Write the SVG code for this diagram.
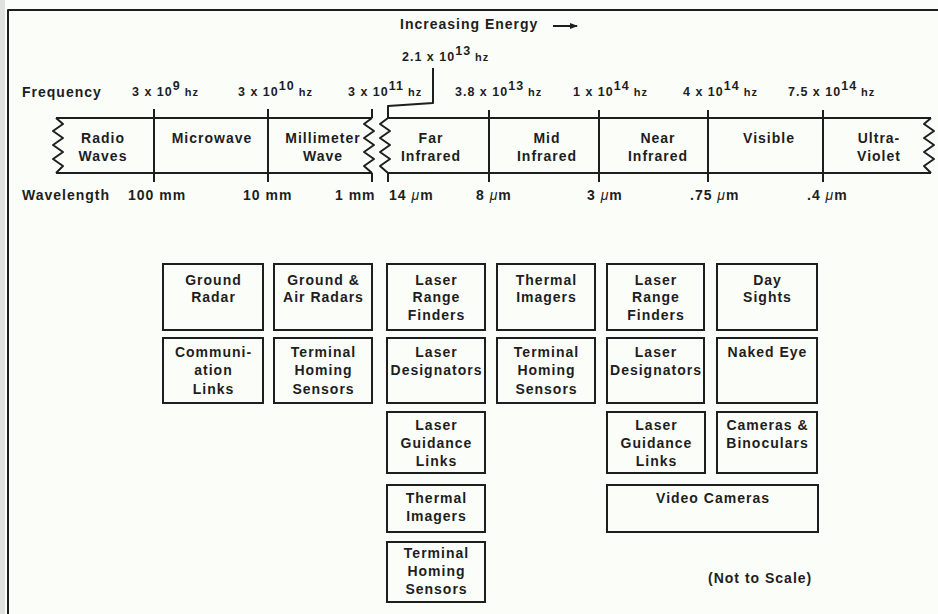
<svg xmlns="http://www.w3.org/2000/svg" width="938" height="614" viewBox="0 0 938 614">
<style>
text{font-family:"Liberation Sans",Arial,sans-serif;font-weight:bold;fill:#1e1e1e;letter-spacing:1px}
.t14{font-size:14px}
.f{font-size:12.5px}
.hz{font-size:11px}
.c{text-anchor:middle}
.mu{font-style:italic;font-weight:normal}
.box{fill:none;stroke:#1e1e1e;stroke-width:2}
.ln{fill:none;stroke:#1e1e1e;stroke-width:2;stroke-linejoin:round}
</style>
<defs>
<marker id="arr" markerWidth="8" markerHeight="6" refX="7" refY="3" orient="auto" markerUnits="userSpaceOnUse">
<path d="M0,0 L8,3 L0,6 Z" fill="#1e1e1e"/>
</marker>
</defs>
<rect width="938" height="614" fill="#fbfdf9"/>
<rect x="0" y="0" width="5" height="614" fill="#dfe1df"/>
<path d="M8,614 L8,10 L938,10" class="ln" stroke="#3a3a3a"/>

<!-- header texts -->
<text class="t14" x="400" y="29">Increasing Energy</text>
<line x1="553" y1="26" x2="577" y2="26" class="ln" stroke-width="1.5" marker-end="url(#arr)"/>
<text class="f" x="402" y="61">2.1 x 10<tspan dy="-6">13</tspan><tspan class="hz" dy="6" dx="4">hz</tspan></text>

<text class="t14" x="22" y="97">Frequency</text>
<text class="f" x="132" y="96">3 x 10<tspan dy="-6">9</tspan><tspan class="hz" dy="6" dx="4">hz</tspan></text>
<text class="f" x="238" y="96">3 x 10<tspan dy="-6">10</tspan><tspan class="hz" dy="6" dx="4">hz</tspan></text>
<text class="f" x="348" y="96">3 x 10<tspan dy="-6">11</tspan><tspan class="hz" dy="6" dx="4">hz</tspan></text>
<text class="f" x="455" y="96">3.8 x 10<tspan dy="-6">13</tspan><tspan class="hz" dy="6" dx="4">hz</tspan></text>
<text class="f" x="573" y="96">1 x 10<tspan dy="-6">14</tspan><tspan class="hz" dy="6" dx="4">hz</tspan></text>
<text class="f" x="683" y="96">4 x 10<tspan dy="-6">14</tspan><tspan class="hz" dy="6" dx="4">hz</tspan></text>
<text class="f" x="788" y="96">7.5 x 10<tspan dy="-6">14</tspan><tspan class="hz" dy="6" dx="4">hz</tspan></text>

<!-- spectrum band -->
<g id="band">
<path class="ln" d="M56,118 L372,118 M56,173 L372,173"/>
<path class="ln" d="M388,118 L931,118 M388,173 L931,173"/>
<path class="ln" d="M56,118 L63,124 L53,131 L63,138 L53,145 L63,152 L53,159 L63,166 L56,173"/>
<path class="ln" d="M372,118 L364,124 L374,131 L364,138 L374,145 L364,152 L374,159 L364,166 L372,173"/>
<path class="ln" d="M433,68 L433,103 L388,106 L388,118 L380,124 L390,131 L380,138 L390,145 L380,152 L390,159 L380,166 L388,173 L388,182"/>
<path class="ln" d="M931,118 L924,124 L934,131 L924,138 L934,145 L924,152 L934,159 L924,166 L931,173"/>
<path class="ln" d="M154,109 V182 M268,109 V182 M372,109 V118 M372,173 V182 M489,110 V182 M599,110 V182 M708,110 V182 M823,110 V182"/>
<text class="t14 c" x="103" y="143">Radio</text>
<text class="t14 c" x="103" y="161">Waves</text>
<text class="t14 c" x="212" y="143">Microwave</text>
<text class="t14 c" x="323" y="143">Millimeter</text>
<text class="t14 c" x="323" y="161">Wave</text>
<text class="t14 c" x="431" y="143">Far</text>
<text class="t14 c" x="431" y="161">Infrared</text>
<text class="t14 c" x="547" y="143">Mid</text>
<text class="t14 c" x="547" y="161">Infrared</text>
<text class="t14 c" x="658" y="143">Near</text>
<text class="t14 c" x="658" y="161">Infrared</text>
<text class="t14 c" x="769" y="143">Visible</text>
<text class="t14 c" x="879" y="143">Ultra-</text>
<text class="t14 c" x="879" y="161">Violet</text>
</g>

<text class="t14" x="22" y="200">Wavelength</text>
<text class="t14" x="128" y="200">100 mm</text>
<text class="t14" x="243" y="200">10 mm</text>
<text class="t14" x="335" y="200">1 mm</text>
<text class="t14" x="389" y="200">14 <tspan class="mu">μ</tspan>m</text>
<text class="t14" x="476" y="200">8 <tspan class="mu">μ</tspan>m</text>
<text class="t14" x="587" y="200">3 <tspan class="mu">μ</tspan>m</text>
<text class="t14" x="690" y="200">.75 <tspan class="mu">μ</tspan>m</text>
<text class="t14" x="807" y="200">.4 <tspan class="mu">μ</tspan>m</text>

<g id="connectors"></g>

<!-- column 1 -->
<g id="ground-radar"><rect class="box" x="163" y="264" width="100" height="66"/>
<text class="t14 c" x="213.5" y="285">Ground</text><text class="t14 c" x="213.5" y="302">Radar</text></g>
<g id="communication-links"><rect class="box" x="163" y="338" width="100" height="65"/>
<text class="t14 c" x="213.5" y="357">Communi-</text><text class="t14 c" x="213.5" y="375">ation</text><text class="t14 c" x="213.5" y="394">Links</text></g>

<!-- column 2 -->
<g id="ground-air-radars"><rect class="box" x="274" y="264" width="98" height="66"/>
<text class="t14 c" x="323.5" y="285">Ground &amp;</text><text class="t14 c" x="323.5" y="302">Air Radars</text></g>
<g id="terminal-homing-2"><rect class="box" x="274" y="338" width="98" height="65"/>
<text class="t14 c" x="323.5" y="357">Terminal</text><text class="t14 c" x="323.5" y="375">Homing</text><text class="t14 c" x="323.5" y="394">Sensors</text></g>

<!-- column 3 -->
<g id="laser-range-finders-3"><rect class="box" x="387" y="264" width="98" height="66"/>
<text class="t14 c" x="436.5" y="285">Laser</text><text class="t14 c" x="436.5" y="302">Range</text><text class="t14 c" x="436.5" y="320">Finders</text></g>
<g id="laser-designators-3"><rect class="box" x="387" y="338" width="98" height="65"/>
<text class="t14 c" x="436.5" y="357">Laser</text><text class="t14 c" x="436.5" y="375">Designators</text></g>
<g id="laser-guidance-3"><rect class="box" x="387" y="412" width="98" height="61"/>
<text class="t14 c" x="436.5" y="430">Laser</text><text class="t14 c" x="436.5" y="448">Guidance</text><text class="t14 c" x="436.5" y="466">Links</text></g>
<g id="thermal-imagers-3"><rect class="box" x="387" y="485" width="98" height="47"/>
<text class="t14 c" x="436.5" y="503">Thermal</text><text class="t14 c" x="436.5" y="521">Imagers</text></g>
<g id="terminal-homing-3"><rect class="box" x="387" y="542" width="98" height="60"/>
<text class="t14 c" x="436.5" y="558">Terminal</text><text class="t14 c" x="436.5" y="576">Homing</text><text class="t14 c" x="436.5" y="594">Sensors</text></g>

<!-- column 4 -->
<g id="thermal-imagers-4"><rect class="box" x="497" y="264" width="98" height="66"/>
<text class="t14 c" x="546.5" y="285">Thermal</text><text class="t14 c" x="546.5" y="302">Imagers</text></g>
<g id="terminal-homing-4"><rect class="box" x="497" y="338" width="98" height="65"/>
<text class="t14 c" x="546.5" y="357">Terminal</text><text class="t14 c" x="546.5" y="375">Homing</text><text class="t14 c" x="546.5" y="394">Sensors</text></g>

<!-- column 5 -->
<g id="laser-range-finders-5"><rect class="box" x="607" y="264" width="97" height="66"/>
<text class="t14 c" x="656" y="285">Laser</text><text class="t14 c" x="656" y="302">Range</text><text class="t14 c" x="656" y="320">Finders</text></g>
<g id="laser-designators-5"><rect class="box" x="607" y="338" width="97" height="65"/>
<text class="t14 c" x="656" y="357">Laser</text><text class="t14 c" x="656" y="375">Designators</text></g>
<g id="laser-guidance-5"><rect class="box" x="607" y="412" width="98" height="61"/>
<text class="t14 c" x="656.5" y="430">Laser</text><text class="t14 c" x="656.5" y="448">Guidance</text><text class="t14 c" x="656.5" y="466">Links</text></g>
<g id="video-cameras"><rect class="box" x="607" y="485" width="211" height="47"/>
<text class="t14 c" x="713" y="503">Video Cameras</text></g>

<!-- column 6 -->
<g id="day-sights"><rect class="box" x="717" y="264" width="100" height="66"/>
<text class="t14 c" x="767.5" y="285">Day</text><text class="t14 c" x="767.5" y="302">Sights</text></g>
<g id="naked-eye"><rect class="box" x="717" y="338" width="100" height="65"/>
<text class="t14 c" x="767.5" y="357">Naked Eye</text></g>
<g id="cameras-binoculars"><rect class="box" x="717" y="412" width="100" height="61"/>
<text class="t14 c" x="767.5" y="430">Cameras &amp;</text><text class="t14 c" x="767.5" y="448">Binoculars</text></g>

<text class="t14" x="708" y="583">(Not to Scale)</text>
</svg>
